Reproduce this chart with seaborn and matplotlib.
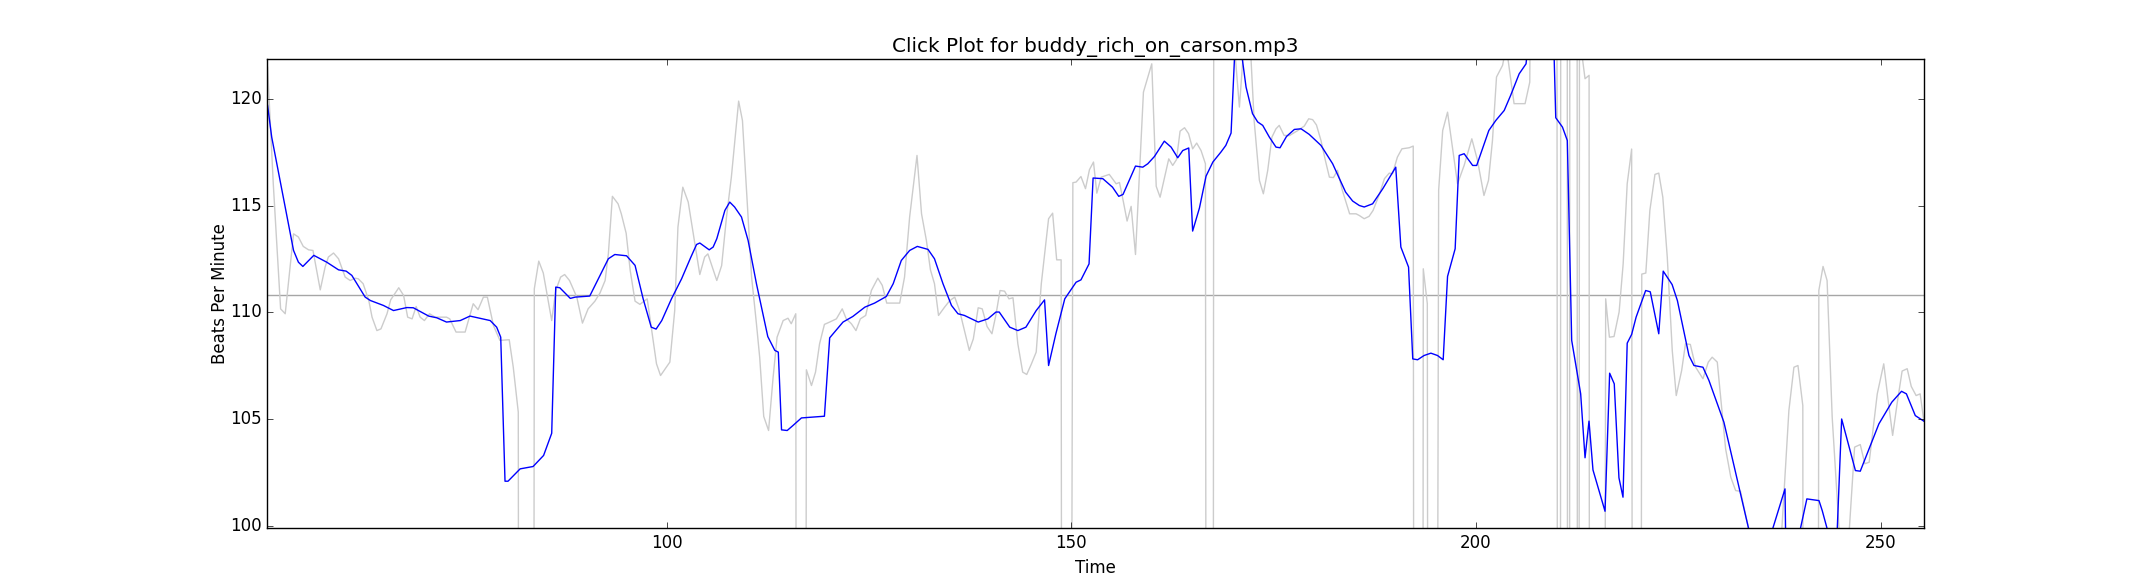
import matplotlib
matplotlib.use("Agg")
import matplotlib.pyplot as plt
import seaborn as sns

# raw per-beat tempo (grey) - values far off-axis stand for the big spikes/drops
raw_time = [50.69, 51.4, 52.3, 52.87, 53.9, 54.5, 55.1, 55.75, 56.3, 57.2,
            57.8, 58.2, 58.84, 59.46, 60.28, 60.9, 61.5, 61.9, 62.5, 63.2,
            63.6, 64.2, 64.7, 65.45, 65.9, 66.9, 67.5, 68.0, 68.55, 69.05,
            69.54, 70.07, 70.7, 71.4, 72.8, 73.2, 73.98, 75.1, 76.1, 76.7,
            77.36, 77.85, 78.6, 79.4, 80.55, 81.05, 81.67, 81.8, 83.5, 83.65,
            84.2, 84.76, 85.8, 86.3, 86.9, 87.4, 88.0, 88.9, 89.6, 90.3,
            91.14, 91.76, 92.4, 92.8, 93.3, 94.0, 94.4, 95.0, 95.5, 96.1,
            96.7, 97.6, 98.1, 98.75, 99.25, 100.4, 101.0, 101.4, 102.0, 102.67,
            103.5, 104.1, 104.7, 105.1, 106.2, 106.8, 107.4, 108.0, 108.9, 109.37,
            109.87, 110.5, 111.1, 111.5, 112.0, 112.6, 113.16, 113.65, 114.4, 115.0,
            115.4, 115.96, 116.1, 117.1, 117.27, 117.9, 118.4, 118.9, 119.5, 120.15,
            120.98, 121.7, 122.2, 122.83, 123.4, 123.94, 124.6, 125.3, 126.1, 126.65,
            127.2, 128.8, 129.4, 130.03, 130.94, 131.5, 132.1, 132.6, 133.1, 133.6,
            134.35, 135.0, 135.6, 136.2, 136.8, 137.4, 137.9, 138.5, 139.0, 139.6,
            140.2, 140.7, 141.2, 141.76, 142.3, 142.8, 143.4, 144.0, 144.5, 145.05,
            145.67, 146.3, 147.2, 147.7, 148.2, 148.75, 148.9, 149.8, 150.2, 150.6,
            151.2, 151.76, 152.25, 152.75, 153.16, 153.7, 154.7, 155.55, 155.96, 156.45,
            156.9, 157.4, 157.94, 158.92, 159.95, 160.5, 160.98, 161.5, 162.05, 162.54,
            163.0, 163.45, 164.0, 164.5, 165.0, 165.5, 166.04, 166.58, 166.75, 167.5,
            167.65, 169.8, 170.78, 171.8, 172.6, 173.25, 173.74, 174.28, 174.8, 175.3,
            175.7, 176.3, 176.95, 178.0, 178.8, 179.34, 179.83, 180.3, 180.86, 181.4,
            181.9, 182.4, 182.9, 183.5, 184.4, 185.2, 185.6, 186.2, 186.8, 187.3,
            188.1, 188.7, 189.3, 189.7, 190.3, 190.86, 191.76, 192.26, 192.4, 193.4,
            193.5, 194.0, 194.15, 195.05, 195.4, 195.9, 196.5, 197.1, 197.73, 198.55,
            199.5, 200.2, 201.0, 201.56, 202.05, 202.55, 203.3, 203.75, 204.72, 206.08,
            206.66, 207.0, 210.0, 210.12, 210.42, 210.5, 211.28, 211.35, 211.55, 211.62,
            212.5, 212.57, 212.7, 212.8, 213.49, 213.99, 214.07, 215.8, 216.04, 216.5,
            217.07, 217.7, 218.2, 218.7, 219.25, 219.42, 220.3, 220.5, 221.0, 221.5,
            222.13, 222.6, 223.1, 223.65, 224.27, 224.76, 225.43, 225.9, 226.5, 227.16,
            228.06, 228.72, 229.2, 229.83, 230.45, 230.86, 231.5, 232.1, 232.7, 233.3,
            234.5, 237.6, 238.68, 239.3, 239.8, 240.4, 240.5, 242.2, 242.38, 242.9,
            243.4, 244.03, 245.5, 246.8, 247.5, 248.06, 248.6, 249.6, 250.4, 251.0,
            251.5, 252.05, 252.67, 253.3, 253.8, 254.4, 254.9, 255.35]
raw_bpm = [121.5, 116.0, 110.17, 109.94, 113.69, 113.54, 113.1, 112.94, 112.91, 111.06,
           112.13, 112.6, 112.79, 112.52, 111.66, 111.5, 111.61, 111.58, 111.35, 110.56,
           109.78, 109.15, 109.23, 109.94, 110.59, 111.16, 110.8, 109.78, 109.7, 110.28,
           109.78, 109.62, 109.94, 109.78, 109.78, 109.7, 109.08, 109.08, 110.41, 110.13,
           110.72, 110.72, 109.39, 108.69, 108.72, 107.43, 105.32, 60.0, 60.0, 111.11,
           112.41, 111.85, 109.62, 111.03, 111.66, 111.78, 111.5, 110.72, 109.5, 110.17,
           110.53, 110.91, 111.5, 112.75, 115.45, 115.1, 114.63, 113.72, 111.97, 110.53,
           110.38, 110.64, 109.31, 107.59, 107.04, 107.67, 110.09, 114.01, 115.88, 115.18,
           113.22, 111.78, 112.6, 112.75, 111.5, 112.2, 114.48, 116.35, 119.92, 119.01,
           115.73, 111.66, 109.47, 107.9, 105.12, 104.46, 106.96, 108.84, 109.62, 109.73,
           109.47, 109.94, 60.0, 60.0, 107.31, 106.57, 107.2, 108.53, 109.44, 109.55,
           109.7, 110.17, 109.7, 109.47, 109.15, 109.7, 109.86, 111.03, 111.61, 111.27,
           110.44, 110.44, 111.66, 114.48, 117.37, 114.63, 113.38, 112.0, 111.35, 109.86,
           110.25, 110.56, 110.72, 110.09, 109.15, 108.22, 108.76, 110.22, 110.17, 109.34,
           109.0, 109.9, 111.03, 111.0, 110.64, 110.69, 108.53, 107.2, 107.09, 107.56,
           108.14, 111.35, 114.4, 114.66, 112.47, 112.47, 60.0, 60.0, 116.09, 116.12,
           116.38, 115.81, 116.7, 117.06, 115.6, 116.35, 116.48, 116.04, 116.1, 115.18,
           114.29, 114.98, 112.72, 120.34, 121.67, 115.92, 115.41, 116.28, 117.21, 116.9,
           117.17, 118.51, 118.67, 118.39, 117.68, 117.95, 117.6, 116.98, 60.0, 60.0,
           150.0, 124.2, 119.64, 125.0, 119.01, 116.2, 115.57, 116.67, 118.23, 118.62,
           118.78, 118.31, 118.3, 118.54, 118.75, 119.09, 119.05, 118.8, 118.07, 117.14,
           116.35, 116.33, 116.67, 115.73, 114.63, 114.63, 114.55, 114.4, 114.51, 114.79,
           115.57, 116.28, 116.54, 116.51, 117.29, 117.68, 117.73, 117.81, 60.0, 60.0,
           112.05, 110.41, 60.0, 60.0, 115.73, 118.54, 119.4, 117.76, 116.04, 116.9,
           118.15, 117.14, 115.49, 116.2, 118.07, 121.05, 121.6, 122.5, 119.8, 119.8,
           120.81, 140.0, 140.0, 60.0, 60.0, 140.0, 140.0, 60.0, 60.0, 140.0,
           140.0, 60.0, 60.0, 123.0, 120.97, 121.13, 60.0, 60.0, 110.64, 108.84,
           108.87, 110.02, 112.28, 116.04, 117.67, 60.0, 60.0, 111.8, 111.85, 114.79,
           116.48, 116.54, 115.41, 112.6, 108.2, 106.1, 107.28, 108.53, 108.5, 107.43,
           106.89, 107.67, 107.9, 107.67, 105.24, 103.6, 102.27, 101.64, 101.61, 100.55,
           98.5, 98.5, 105.4, 107.43, 107.51, 105.63, 60.0, 60.0, 111.03, 112.16,
           111.5, 105.09, 96.0, 103.68, 103.8, 102.9, 102.97, 106.18, 107.59, 105.71,
           104.23, 105.71, 107.25, 107.36, 106.53, 106.1, 106.18, 104.93]

# smoothed tempo (blue)
smooth_time = [50.69, 51.2, 53.9, 54.5, 55.05, 56.4, 58.0, 59.46, 60.4, 61.1,
               62.75, 63.4, 65.0, 66.25, 67.9, 68.7, 70.6, 71.6, 72.8, 74.5,
               75.7, 78.2, 79.0, 79.5, 80.03, 80.4, 81.9, 83.5, 84.8, 85.8,
               86.3, 86.8, 88.1, 88.7, 90.5, 92.8, 93.6, 95.05, 96.1, 97.1,
               98.1, 98.7, 99.4, 100.6, 101.85, 103.0, 103.7, 104.1, 105.26, 105.75,
               106.2, 107.2, 107.8, 108.4, 109.25, 110.07, 111.1, 112.5, 113.37, 113.8,
               114.2, 114.9, 115.6, 116.66, 118.1, 119.5, 120.15, 121.8, 123.0, 124.5,
               125.7, 127.15, 128.0, 129.0, 130.03, 130.98, 132.3, 133.1, 134.15, 135.2,
               136.0, 136.8, 138.5, 139.7, 140.7, 141.1, 142.4, 143.4, 144.4, 145.67,
               146.7, 147.2, 148.1, 149.2, 150.6, 151.2, 152.2, 152.7, 153.9, 155.1,
               155.87, 156.4, 157.94, 158.84, 159.46, 160.28, 161.5, 162.34, 163.16, 163.78,
               164.52, 165.0, 165.84, 166.66, 167.5, 168.5, 169.1, 169.75, 170.3, 170.75,
               171.6, 172.4, 173.04, 173.66, 174.48, 175.3, 175.8, 176.6, 177.57, 178.4,
               179.4, 180.86, 182.3, 183.9, 184.77, 185.6, 186.2, 187.24, 188.5, 190.1,
               190.73, 191.68, 192.2, 192.8, 193.6, 194.44, 195.26, 195.96, 196.5, 197.44,
               197.94, 198.55, 199.6, 200.1, 201.6, 202.46, 203.5, 204.3, 205.35, 206.2,
               206.8, 208.5, 209.6, 209.87, 210.7, 211.3, 211.84, 212.95, 213.49, 213.98,
               214.47, 215.96, 216.53, 217.1, 217.68, 218.18, 218.7, 219.25, 219.8, 220.98,
               221.55, 222.6, 223.15, 224.25, 224.9, 226.33, 226.95, 228.06, 228.8, 230.65,
               234.5, 235.5, 238.2, 238.4, 239.9, 240.9, 242.4, 242.8, 243.8, 244.6,
               245.2, 246.9, 247.5, 249.8, 251.4, 252.6, 253.2, 254.3, 255.35]
smooth_bpm = [119.72, 118.23, 112.91, 112.36, 112.16, 112.68, 112.36, 112.0, 111.94, 111.74,
              110.72, 110.56, 110.33, 110.09, 110.23, 110.22, 109.83, 109.75, 109.55, 109.62,
              109.83, 109.62, 109.31, 108.84, 102.08, 102.08, 102.66, 102.77, 103.29, 104.33,
              111.19, 111.16, 110.66, 110.72, 110.77, 112.52, 112.72, 112.66, 112.21, 110.64,
              109.31, 109.22, 109.62, 110.64, 111.58, 112.6, 113.19, 113.26, 112.94, 113.07,
              113.46, 114.79, 115.18, 114.95, 114.48, 113.38, 111.35, 108.87, 108.22, 108.14,
              104.49, 104.46, 104.69, 105.05, 105.09, 105.13, 108.81, 109.55, 109.81, 110.25,
              110.44, 110.75, 111.35, 112.44, 112.91, 113.1, 112.96, 112.52, 111.35, 110.33,
              109.94, 109.86, 109.55, 109.7, 110.02, 110.02, 109.31, 109.15, 109.31, 110.09,
              110.59, 107.51, 109.0, 110.64, 111.42, 111.53, 112.28, 116.31, 116.28, 115.88,
              115.45, 115.54, 116.87, 116.82, 116.98, 117.32, 118.04, 117.76, 117.26, 117.6,
              117.72, 113.82, 114.9, 116.4, 117.06, 117.53, 117.84, 118.42, 123.0, 123.0,
              120.58, 119.33, 118.94, 118.78, 118.23, 117.76, 117.73, 118.26, 118.59, 118.62,
              118.36, 117.84, 116.98, 115.65, 115.23, 115.02, 114.95, 115.1, 115.81, 116.82,
              113.07, 112.13, 107.82, 107.78, 107.98, 108.09, 107.98, 107.78, 111.69, 112.99,
              117.37, 117.45, 116.9, 116.9, 118.54, 119.01, 119.48, 120.19, 121.2, 121.67,
              124.0, 125.0, 123.0, 119.14, 118.7, 118.07, 108.69, 106.18, 103.18, 104.9,
              102.61, 100.67, 107.15, 106.65, 102.24, 101.33, 108.56, 108.97, 109.78, 111.03,
              110.97, 109.0, 111.94, 111.31, 110.56, 107.98, 107.51, 107.43, 106.81, 104.85,
              98.55, 98.4, 101.72, 96.0, 99.5, 101.25, 101.17, 100.7, 99.3, 99.3,
              105.0, 102.58, 102.55, 104.77, 105.79, 106.3, 106.18, 105.16, 104.9]

mean_bpm = 110.8

# old-school matplotlib look
plt.style.use("classic")

fig = plt.figure(figsize=(21.38, 5.87), dpi=100)
ax = fig.add_subplot(111)

ax.axhline(mean_bpm, color="0.65", lw=1)
sns.lineplot(x=raw_time, y=raw_bpm, color="0.8", lw=1, estimator=None, sort=False, ax=ax)
sns.lineplot(x=smooth_time, y=smooth_bpm, color="b", lw=1, estimator=None, sort=False, ax=ax)

ax.set_xlim(50.65, 255.4)
ax.set_ylim(99.87, 121.91)
ax.set_xticks([100, 150, 200, 250])
ax.set_yticks([100, 105, 110, 115, 120])
ax.set_title("Click Plot for buddy_rich_on_carson.mp3")
ax.set_xlabel("Time")
ax.set_ylabel("Beats Per Minute")
# label sits a bit closer to the tick labels than the default
ax.yaxis.set_label_coords(-0.0232, 0.5)

fig.savefig("out.png", dpi=100, facecolor="white")
